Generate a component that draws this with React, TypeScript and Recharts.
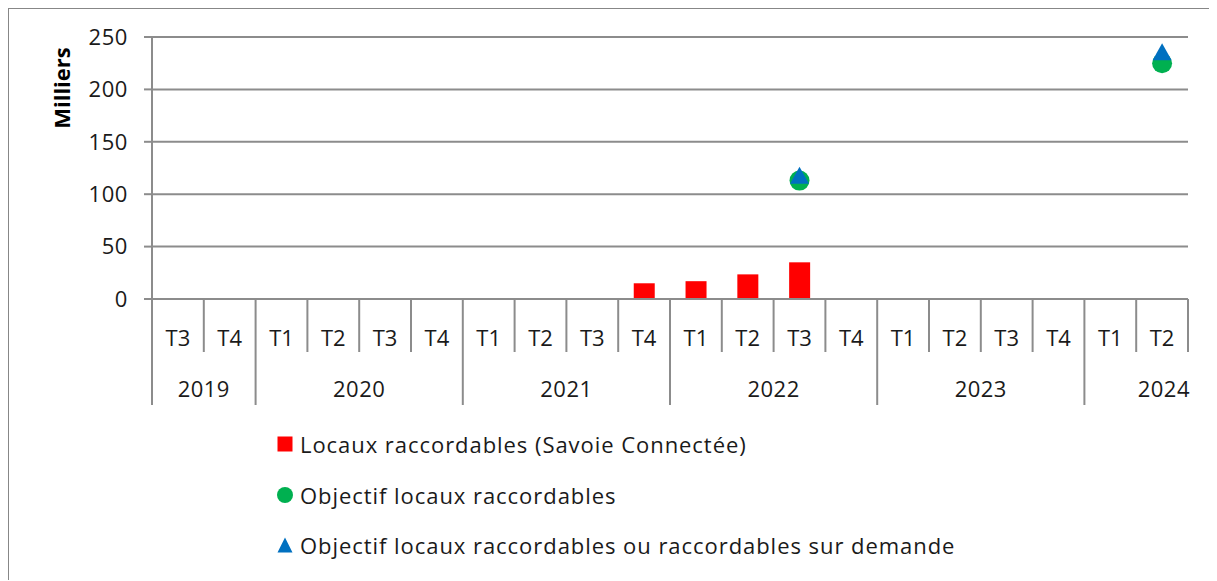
import { ComposedChart, Bar, Line, XAxis, YAxis, CartesianGrid, Legend } from 'recharts'

const quarters = ['T3', 'T4', 'T1', 'T2', 'T3', 'T4', 'T1', 'T2', 'T3', 'T4', 'T1', 'T2', 'T3', 'T4', 'T1', 'T2', 'T3', 'T4', 'T1', 'T2']
const years = ['2019', '2019', '2020', '2020', '2020', '2020', '2021', '2021', '2021', '2021', '2022', '2022', '2022', '2022', '2023', '2023', '2023', '2023', '2024', '2024']
const raccordables = [null, null, null, null, null, null, null, null, null, 15, 17, 23.5, 35, null, null, null, null, null, null, null]
const objectif = [null, null, null, null, null, null, null, null, null, null, null, null, 113, null, null, null, null, null, null, 225]
const objectifDemande = [null, null, null, null, null, null, null, null, null, null, null, null, 118, null, null, null, null, null, null, 236]
const yTicks = [0, 50, 100, 150, 200, 250]

const seriesNames = [
  'Locaux raccordables (Savoie Connectée)',
  'Objectif locaux raccordables',
  'Objectif locaux raccordables ou raccordables sur demande',
]
const seriesColors = ['#FF0000', '#00B050', '#0070C0']

const FONT = '"Open Sans", sans-serif'
const AXIS = '#8c8c8c'
const TEXT = '#1a1a1a'

const data = quarters.map((q, i) => ({
  key: `${years[i]}-${q}-${i}`,
  q,
  year: years[i],
  raccordables: raccordables[i],
  objectif: objectif[i],
  objectifDemande: objectifDemande[i],
}))

// two level category axis, drawn like excel: quarters, then years
function QuarterTick(props: any) {
  const { x, y, payload } = props
  const half = payload?.offset || 25.9
  const i = payload?.index ?? props.index
  const left = x - half
  const first = i === 0 || years[i] !== years[i - 1]
  const last = i === quarters.length - 1
  let yearLabel = null
  if (first) {
    const count = years.filter((v) => v === years[i]).length
    const isLastGroup = i + count >= years.length
    yearLabel = isLastGroup ? (
      <text x={left + count * 2 * half + 2} y={y + 89} textAnchor="end" dominantBaseline="central" fontSize={22} letterSpacing={0.5} fontFamily={FONT} fill={TEXT}>
        {years[i]}
      </text>
    ) : (
      <text x={left + count * half} y={y + 89} textAnchor="middle" dominantBaseline="central" fontSize={22} letterSpacing={0.5} fontFamily={FONT} fill={TEXT}>
        {years[i]}
      </text>
    )
  }
  return (
    <g>
      <line x1={left} x2={left} y1={y} y2={first ? y + 106 : y + 53} stroke={AXIS} strokeWidth={2} />
      {last && <line x1={x + half} x2={x + half} y1={y} y2={y + 53} stroke={AXIS} strokeWidth={2} />}
      <text x={x} y={y + 38} textAnchor="middle" dominantBaseline="central" fontSize={22} fontFamily={FONT} fill={TEXT}>
        {payload.value}
      </text>
      {yearLabel}
    </g>
  )
}

function CircleDot(props: any) {
  const { cx, cy, value, index } = props
  if (value == null || cx == null || cy == null) return <g key={`c${index}`} />
  return <circle key={`c${index}`} cx={cx} cy={cy} r={10} fill={seriesColors[1]} />
}

function TriangleDot(props: any) {
  const { cx, cy, value, index } = props
  if (value == null || cx == null || cy == null) return <g key={`t${index}`} />
  const pts = `${cx},${cy - 8.5} ${cx - 9.5},${cy + 8.5} ${cx + 9.5},${cy + 8.5}`
  return <polygon key={`t${index}`} points={pts} fill={seriesColors[2]} />
}

function LegendMarker({ i }: { i: number }) {
  return (
    <svg width={16} height={16} style={{ display: 'block' }}>
      {i === 0 && <rect x={0.5} y={0.5} width={15} height={15} fill={seriesColors[0]} />}
      {i === 1 && <circle cx={8} cy={8} r={8} fill={seriesColors[1]} />}
      {i === 2 && <polygon points="8,0.5 0.5,15.5 15.5,15.5" fill={seriesColors[2]} />}
    </svg>
  )
}

function renderLegend() {
  return (
    <div style={{ fontFamily: FONT, fontSize: 22, letterSpacing: 0.95, color: TEXT }}>
      {seriesNames.map((name, i) => (
        <div key={name} style={{ display: 'flex', alignItems: 'center', height: 50.5, whiteSpace: 'nowrap' }}>
          <LegendMarker i={i} />
          <span style={{ marginLeft: 7 }}>{name}</span>
        </div>
      ))}
    </div>
  )
}

function MilliersLabel(props: any) {
  const { viewBox } = props
  const cx = viewBox.x - 31
  const cy = viewBox.y + 51
  return (
    <text x={cx} y={cy} transform={`rotate(-90 ${cx} ${cy})`} textAnchor="middle" dominantBaseline="central" fontSize={22} fontWeight="bold" fontFamily={FONT} fill="#000">
      Milliers
    </text>
  )
}

export default function App() {
  return (
    <div style={{ position: 'relative', width: 1209, height: 573, marginLeft: -1, marginTop: -1, background: '#fff', fontFamily: FONT }}>
      <ComposedChart width={1209} height={573} data={data} margin={{ top: 30, right: 28, left: 85, bottom: 171 }} barCategoryGap="30%">
        <CartesianGrid vertical={false} stroke={AXIS} strokeWidth={2} />
        <XAxis
          dataKey="key"
          interval={0}
          height={110}
          tickLine={false}
          tickSize={0}
          tickMargin={0}
          axisLine={{ stroke: AXIS, strokeWidth: 2 }}
          tick={(p: any) => <QuarterTick {...p} payload={{ ...p.payload, value: quarters[p.payload?.index ?? p.index] }} />}
        />
        <YAxis
          width={60}
          domain={[0, 250]}
          ticks={yTicks}
          interval={0}
          tickSize={8}
          tickMargin={16}
          axisLine={{ stroke: AXIS, strokeWidth: 2 }}
          tickLine={{ stroke: AXIS, strokeWidth: 2 }}
          tick={{ fill: TEXT, fontSize: 22, fontFamily: FONT, letterSpacing: 0.6 }}
          label={<MilliersLabel />}
        />
        <Legend layout="vertical" align="center" verticalAlign="middle" content={renderLegend} wrapperStyle={{ left: 270, top: 412, width: 800 }} />
        <Bar dataKey="raccordables" name={seriesNames[0]} fill={seriesColors[0]} isAnimationActive={false} />
        <Line dataKey="objectif" name={seriesNames[1]} stroke="transparent" strokeWidth={0} dot={CircleDot} activeDot={false} isAnimationActive={false} />
        <Line dataKey="objectifDemande" name={seriesNames[2]} stroke="transparent" strokeWidth={0} dot={TriangleDot} activeDot={false} isAnimationActive={false} />
      </ComposedChart>
      <div style={{ position: 'absolute', left: 0, top: 0, width: '100%', height: '100%', borderTop: '2px solid #878787', borderLeft: '2px solid #878787', boxSizing: 'border-box', pointerEvents: 'none' }} />
    </div>
  )
}
